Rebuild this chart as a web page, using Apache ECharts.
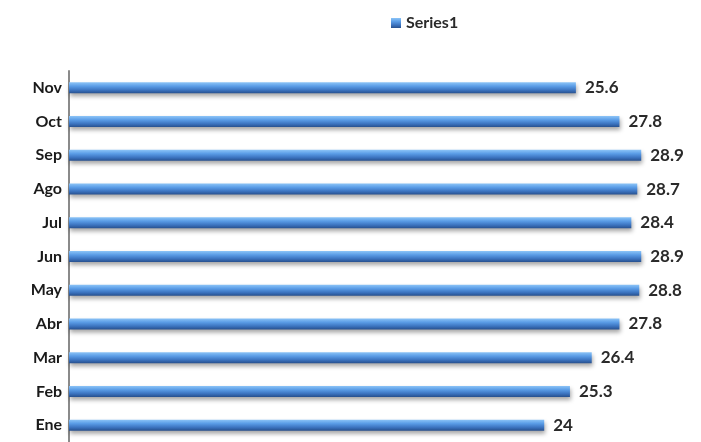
<!DOCTYPE html>
<html>
<head>
<meta charset="utf-8">
<script src="https://cdn.jsdelivr.net/npm/echarts@6/dist/echarts.min.js"></script>
<style>
  html, body { margin: 0; padding: 0; background: #fff; }
  #chart { width: 701px; height: 442px; }
</style>
</head>
<body>
<div id="chart"></div>
<script>
  // data, bottom to top
  const months = ['Ene', 'Feb', 'Mar', 'Abr', 'May', 'Jun', 'Jul', 'Ago', 'Sep', 'Oct', 'Nov'];
  const series1 = [24, 25.3, 26.4, 27.8, 28.8, 28.9, 28.4, 28.7, 28.9, 27.8, 25.6];

  const chart = echarts.init(document.getElementById('chart'));

  const barColor = new echarts.graphic.LinearGradient(0, 0, 0, 1, [
    { offset: 0, color: '#8cc4f7' },
    { offset: 0.35, color: '#5a9ce6' },
    { offset: 0.7, color: '#3c74c0' },
    { offset: 1, color: '#27508e' }
  ]);

  const option = {
    animation: false,
    legend: {
      left: 386,
      top: 10,
      itemWidth: 10,
      itemHeight: 10,
      itemGap: 5,
      textStyle: { fontFamily: 'Lato', fontWeight: 'bold', fontSize: 16, color: '#2a2a2a' },
      data: [{ name: 'Series1', icon: 'rect' }]
    },
    grid: { left: 69, top: 71, width: 594, height: 371 },
    xAxis: {
      type: 'value',
      min: 0,
      max: 30,
      show: false
    },
    yAxis: {
      type: 'category',
      data: months,
      axisLine: { show: true, lineStyle: { color: '#8a8a8a', width: 2 } },
      axisTick: { show: false },
      axisLabel: {
        margin: 7,
        fontFamily: 'Lato',
        fontWeight: 'bold',
        fontSize: 16,
        color: '#1a1a1a'
      }
    },
    series: [{
      name: 'Series1',
      type: 'bar',
      data: series1,
      barWidth: 11,
      itemStyle: {
        color: barColor,
        shadowColor: 'rgba(0,0,0,0.35)',
        shadowBlur: 4,
        shadowOffsetY: 3,
        shadowOffsetX: 1
      },
      label: {
        show: true,
        position: 'right',
        distance: 9,
        fontFamily: 'Lato',
        fontWeight: 'bold',
        fontSize: 17,
        color: '#2a2a2a'
      }
    }]
  };

  chart.setOption(option);
</script>
</body>
</html>
